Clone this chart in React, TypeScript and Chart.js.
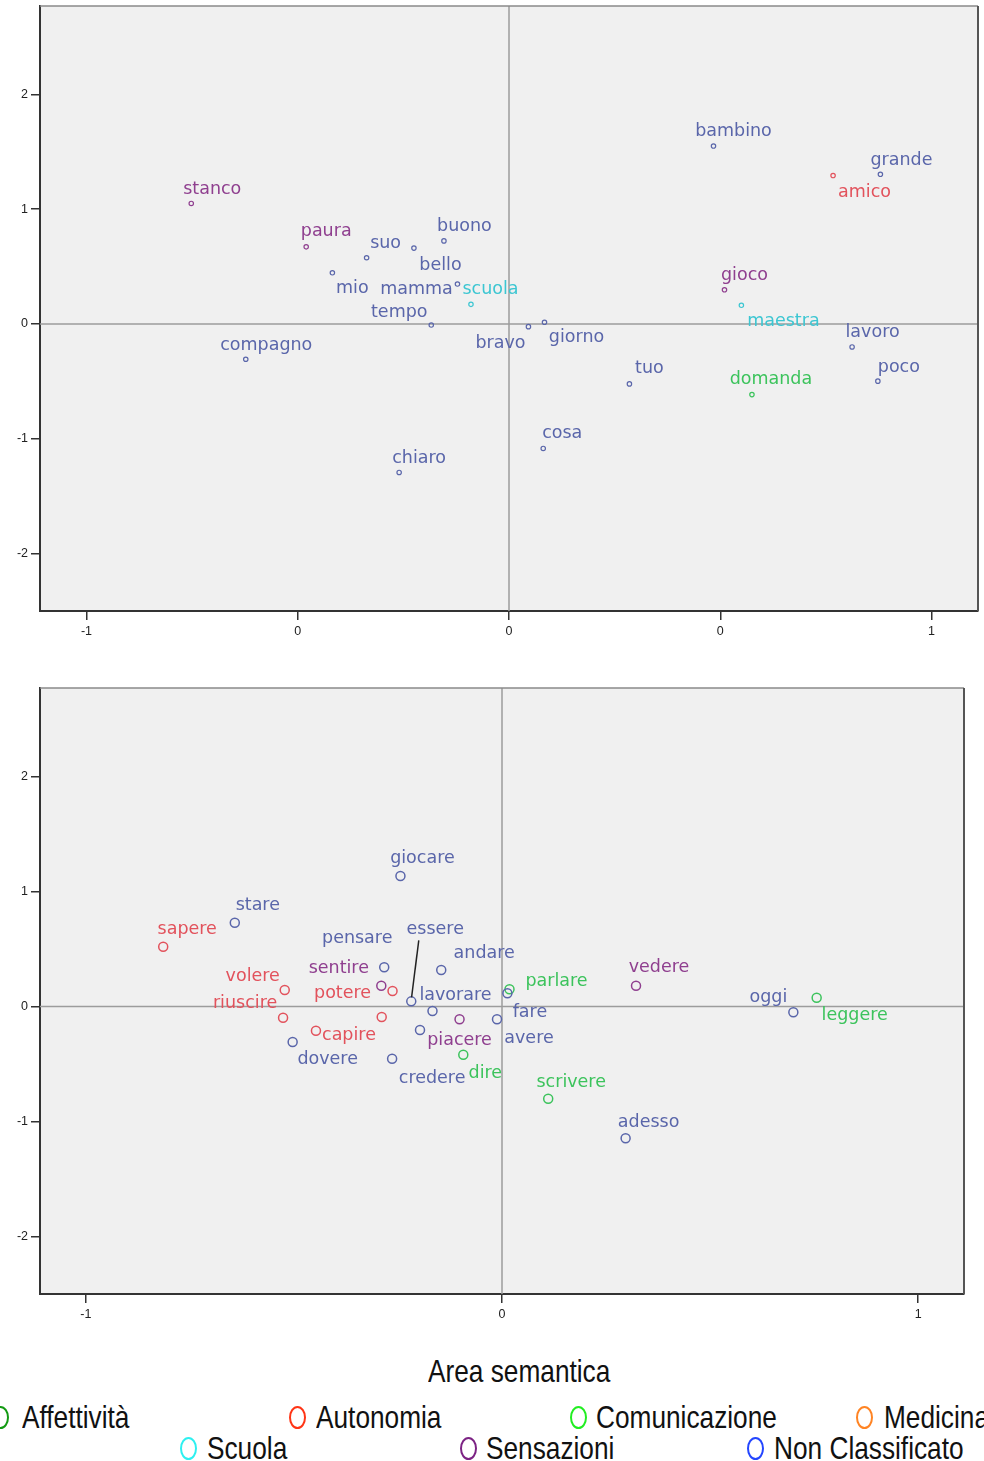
import { useEffect, useRef } from 'react';
import { Chart, registerables } from 'chart.js';

Chart.register(...registerables);

// Semantic areas (legend order)
const categories = ['Affettività', 'Autonomia', 'Comunicazione', 'Medicina', 'Scuola', 'Sensazioni', 'Non Classificato'];
const legendColors = ['#139a13', '#ff3516', '#22ee22', '#ff8424', '#2ef0f0', '#7c2384', '#2446ff'];
const markColors = ['#2f8f3a', '#e2525c', '#3cc35c', '#f08a3c', '#3cc6d2', '#8f3f8f', '#5a66aa'];

// Upper map: nouns / adjectives
const topWords = ['stanco', 'paura', 'suo', 'bello', 'mio', 'buono', 'mamma', 'scuola', 'tempo', 'compagno', 'chiaro', 'bravo', 'giorno', 'tuo', 'cosa', 'domanda', 'lavoro', 'poco', 'bambino', 'grande', 'amico', 'gioco', 'maestra'];
const topX = [-0.752, -0.48, -0.337, -0.225, -0.418, -0.154, -0.122, -0.09, -0.184, -0.623, -0.26, 0.046, 0.084, 0.285, 0.081, 0.575, 0.812, 0.873, 0.484, 0.879, 0.767, 0.51, 0.55];
const topY = [1.05, 0.672, 0.577, 0.661, 0.446, 0.724, 0.348, 0.171, -0.009, -0.307, -1.293, -0.023, 0.015, -0.522, -1.084, -0.615, -0.2, -0.498, 1.55, 1.304, 1.293, 0.298, 0.163];
const topCat = [5, 5, 6, 6, 6, 6, 6, 4, 6, 6, 6, 6, 6, 6, 6, 2, 6, 6, 6, 6, 1, 5, 4];

// Lower map: verbs / adverbs
const bottomWords = ['giocare', 'stare', 'sapere', 'pensare', 'andare', 'sentire', 'potere', 'essere', 'lavorare', '', 'volere', 'riuscire', 'capire', 'dovere', '', 'piacere', 'avere', 'credere', 'dire', 'parlare', 'fare', 'vedere', 'oggi', 'leggere', 'scrivere', 'adesso'];
const bottomX = [-0.244, -0.642, -0.814, -0.283, -0.146, -0.29, -0.263, -0.218, -0.167, -0.289, -0.522, -0.526, -0.447, -0.503, -0.197, -0.102, -0.012, -0.264, -0.093, 0.018, 0.013, 0.322, 0.7, 0.756, 0.111, 0.297];
const bottomY = [1.135, 0.729, 0.52, 0.341, 0.317, 0.181, 0.135, 0.045, -0.039, -0.091, 0.143, -0.097, -0.21, -0.309, -0.204, -0.111, -0.111, -0.454, -0.419, 0.15, 0.115, 0.181, -0.05, 0.077, -0.802, -1.146];
const bottomCat = [6, 6, 1, 6, 6, 5, 1, 6, 6, 1, 1, 1, 1, 6, 6, 5, 6, 6, 2, 2, 6, 5, 6, 2, 2, 6];

// Axis ticks
const topXTicks = [-1, -0.5, 0, 0.5, 1];
const topXTickLabels = ['-1', '0', '0', '0', '1'];
const bottomXTicks = [-1, 0, 1];
const bottomXTickLabels = ['-1', '0', '1'];
const yTicks = [-2, -1, 0, 1, 2];
const yTickLabels = ['-2', '-1', '0', '1', '2'];

// Label placement relative to each marker (pixels, text centre)
const topLabelDx = [21, 20, 19, 26.5, 20, 20.5, -41, 19.5, -32, 20.5, 20, -28, 32, 20, 19, 19, 20.5, 21, 20, 21, 31.5, 20, 42];
const topLabelDy = [-14, -15, -14, 17, 16, -14, 5, -15, -13, -14, -14, 17, 15, -15, -15, -15, -15, -14, -15, -14, 17, -14, 16];
const bottomLabelDx = [22, 23, 24, -27, 43, -42.5, -50, 24, 23, 0, -32, -38, 33, 35, 0, 0, 32, 40, 22, 47, 22.5, 23, -25, 38, 23, 23];
const bottomLabelDy = [-18, -17, -17, -29, -17, -17, 2, -72, -16, 0, -14, -14, 5, 17, 0, 21, 19, 20, 19, -8, 19, -18, -15, 18, -16, -16];
// leader line for the displaced "essere" label
const bottomLeaders = [{ index: 7, x1: 7.5, y1: -61, x2: 0.3, y2: -4 }];

type Leader = { index: number; x1: number; y1: number; x2: number; y2: number };

interface MapSpec {
  words: string[];
  xs: number[];
  ys: number[];
  cats: number[];
  dx: number[];
  dy: number[];
  leaders: Leader[];
  xTicks: number[];
  xTickLabels: string[];
  pointRadius: number;
  pointBorder: number;
  padTop: number;
  padRight: number;
  xAxisHeight: number;
}

const LABEL_FONT = '17.5px "DejaVu Sans", sans-serif';

function buildChart(canvas: HTMLCanvasElement, spec: MapSpec) {
  const decor = {
    id: 'mapDecor',
    beforeDraw(chart: any) {
      const { ctx, chartArea: a } = chart;
      ctx.save();
      ctx.fillStyle = '#f0f0f0';
      ctx.fillRect(a.left, a.top, a.right - a.left, a.bottom - a.top);
      ctx.restore();
    },
    beforeDatasetsDraw(chart: any) {
      const { ctx, chartArea: a, scales } = chart;
      const x0 = scales.x.getPixelForValue(0);
      const y0 = scales.y.getPixelForValue(0);
      ctx.save();
      ctx.strokeStyle = '#9c9c9c';
      ctx.lineWidth = 1.5;
      ctx.beginPath();
      ctx.moveTo(x0, a.top);
      ctx.lineTo(x0, a.bottom);
      ctx.moveTo(a.left, y0);
      ctx.lineTo(a.right, y0);
      ctx.stroke();
      ctx.restore();
    },
    afterDatasetsDraw(chart: any) {
      const { ctx, chartArea: a } = chart;
      const meta = chart.getDatasetMeta(0);
      ctx.save();
      // frame: top and right edges
      ctx.strokeStyle = '#8a8a8a';
      ctx.lineWidth = 1.5;
      ctx.beginPath();
      ctx.moveTo(a.left, a.top);
      ctx.lineTo(a.right, a.top);
      ctx.stroke();
      ctx.strokeStyle = '#555';
      ctx.lineWidth = 2;
      ctx.beginPath();
      ctx.moveTo(a.right, a.top);
      ctx.lineTo(a.right, a.bottom);
      ctx.stroke();

      ctx.font = LABEL_FONT;
      ctx.textAlign = 'center';
      ctx.textBaseline = 'middle';
      spec.words.forEach((w, i) => {
        if (!w) return;
        const p = meta.data[i];
        ctx.fillStyle = markColors[spec.cats[i]];
        ctx.fillText(w, p.x + spec.dx[i], p.y + spec.dy[i]);
      });
      ctx.strokeStyle = '#222';
      ctx.lineWidth = 1.5;
      spec.leaders.forEach((l) => {
        const p = meta.data[l.index];
        ctx.beginPath();
        ctx.moveTo(p.x + l.x1, p.y + l.y1);
        ctx.lineTo(p.x + l.x2, p.y + l.y2);
        ctx.stroke();
      });
      ctx.restore();
    },
  };

  const tickFont = { family: '"Liberation Sans", Arial, sans-serif', size: 12.5 };

  return new Chart(canvas, {
    type: 'scatter',
    data: {
      datasets: [
        {
          data: spec.xs.map((x, i) => ({ x, y: spec.ys[i] })),
          pointStyle: 'circle',
          pointRadius: spec.pointRadius,
          pointHoverRadius: spec.pointRadius,
          pointBorderWidth: spec.pointBorder,
          pointBackgroundColor: 'rgba(0,0,0,0)',
          pointBorderColor: spec.cats.map((c) => markColors[c]),
        },
      ],
    },
    options: {
      animation: false,
      responsive: false,
      events: [],
      layout: { padding: { top: spec.padTop, right: spec.padRight, left: 0, bottom: 0 } },
      plugins: { legend: { display: false }, tooltip: { enabled: false } },
      scales: {
        x: {
          type: 'linear',
          min: -1.11,
          max: 1.11,
          afterBuildTicks: (s: any) => {
            s.ticks = spec.xTicks.map((v) => ({ value: v }));
          },
          afterFit: (s: any) => {
            s.height = spec.xAxisHeight;
            s.paddingLeft = 0;
            s.paddingRight = 0;
          },
          ticks: {
            autoSkip: false,
            maxRotation: 0,
            padding: 4,
            color: '#222',
            font: tickFont,
            callback: (_v: any, i: number) => spec.xTickLabels[i],
          },
          grid: { drawOnChartArea: false, drawTicks: true, tickLength: 9, color: '#333', lineWidth: 1.5 },
          border: { display: true, color: '#333', width: 2 },
        },
        y: {
          type: 'linear',
          min: -2.5,
          max: 2.77,
          afterBuildTicks: (s: any) => {
            s.ticks = yTicks.map((v) => ({ value: v }));
          },
          afterFit: (s: any) => {
            s.width = 40;
            s.paddingTop = 0;
            s.paddingBottom = 0;
          },
          ticks: {
            autoSkip: false,
            padding: 3,
            color: '#222',
            font: tickFont,
            callback: (_v: any, i: number) => yTickLabels[i],
          },
          grid: { drawOnChartArea: false, drawTicks: true, tickLength: 9, color: '#333', lineWidth: 1.5 },
          border: { display: true, color: '#333', width: 2 },
        },
      },
    },
    plugins: [decor],
  } as any);
}

function MapCanvas({ spec, top, height }: { spec: MapSpec; top: number; height: number }) {
  const ref = useRef<HTMLCanvasElement | null>(null);
  useEffect(() => {
    if (!ref.current) return;
    const chart = buildChart(ref.current, spec);
    return () => chart.destroy();
  }, [spec]);
  return (
    <canvas
      ref={ref}
      width={984}
      height={height}
      style={{ position: 'absolute', left: 0, top, width: 984, height }}
    />
  );
}

const topSpec: MapSpec = {
  words: topWords,
  xs: topX,
  ys: topY,
  cats: topCat,
  dx: topLabelDx,
  dy: topLabelDy,
  leaders: [],
  xTicks: topXTicks,
  xTickLabels: topXTickLabels,
  pointRadius: 2.2,
  pointBorder: 1.2,
  padTop: 6,
  padRight: 6,
  xAxisHeight: 39,
};

const bottomSpec: MapSpec = {
  words: bottomWords,
  xs: bottomX,
  ys: bottomY,
  cats: bottomCat,
  dx: bottomLabelDx,
  dy: bottomLabelDy,
  leaders: bottomLeaders,
  xTicks: bottomXTicks,
  xTickLabels: bottomXTickLabels,
  pointRadius: 4.5,
  pointBorder: 1.5,
  padTop: 38,
  padRight: 20,
  xAxisHeight: 46,
};

// Legend layout: [marker left, text left, cap centre y]
const legendLayout: [number, number, number][] = [
  [-8, 22, 1417],
  [289, 316, 1417],
  [570, 596, 1417],
  [856, 884, 1417],
  [180, 207, 1448],
  [460, 486, 1448],
  [747, 774, 1448],
];

const narrowText: React.CSSProperties = {
  position: 'absolute',
  fontFamily: '"Liberation Sans", Arial, sans-serif',
  fontSize: 32,
  lineHeight: '32px',
  color: '#111',
  whiteSpace: 'nowrap',
  transform: 'scaleX(0.82)',
  transformOrigin: 'left center',
};

export default function App() {
  return (
    <div
      style={{
        position: 'absolute',
        left: 0,
        top: 0,
        width: 984,
        height: 1461,
        overflow: 'hidden',
        background: '#fff',
      }}
    >
      <MapCanvas spec={topSpec} top={0} height={650} />
      <MapCanvas spec={bottomSpec} top={650} height={690} />
      <div style={{ ...narrowText, left: 428, top: 1371 - 15.6 }}>Area semantica</div>
      {categories.map((name, i) => {
        const [mx, tx, cy] = legendLayout[i];
        return (
          <div key={name}>
            <span
              style={{
                position: 'absolute',
                left: mx,
                top: cy - 11.5,
                width: 17,
                height: 23,
                boxSizing: 'border-box',
                border: `2.3px solid ${legendColors[i]}`,
                borderRadius: '50%',
              }}
            />
            <div style={{ ...narrowText, left: tx, top: cy - 15.6 }}>{name}</div>
          </div>
        );
      })}
    </div>
  );
}
